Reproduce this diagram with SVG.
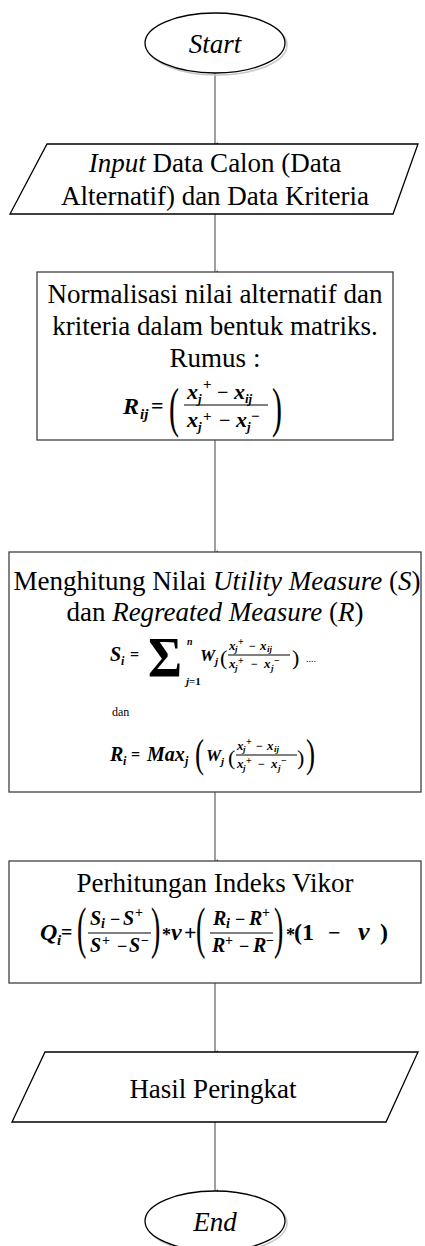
<svg xmlns="http://www.w3.org/2000/svg" width="425" height="1246" viewBox="0 0 425 1246">
<style>
.shape{fill:#fff;stroke:#000;stroke-width:1.3}
.box{fill:#fff;stroke:#404040;stroke-width:1.3}
.shadow{fill:none;stroke:#c8c8c8;stroke-width:1.5}
.conn{stroke:#808080;stroke-width:1.5;fill:none}
.t{font-family:"Liberation Serif","Times New Roman",serif;font-size:27px;fill:#000;text-anchor:middle}
.m{font-family:"Liberation Serif","Times New Roman",serif;font-weight:bold;font-style:italic;fill:#000}
.r{font-family:"Liberation Serif","Times New Roman",serif;font-weight:bold;fill:#000}
.p{font-family:"Liberation Serif","Times New Roman",serif;fill:#000}
.bar{stroke:#000;stroke-width:1.2}
</style>
<defs>
<marker id="ah" markerWidth="6" markerHeight="6" refX="3" refY="5" orient="auto" markerUnits="userSpaceOnUse">
<path d="M1,2 L3,5 L5,2 Z" fill="#808080"/>
</marker>
</defs>
<rect width="425" height="1246" fill="#fff"/>
<g id="connectors">
<line class="conn" x1="215" y1="73" x2="215" y2="144" marker-end="url(#ah)"/>
<line class="conn" x1="215" y1="214" x2="215" y2="272" marker-end="url(#ah)"/>
<line class="conn" x1="215" y1="440" x2="215" y2="552" marker-end="url(#ah)"/>
<line class="conn" x1="215" y1="792" x2="215" y2="861" marker-end="url(#ah)"/>
<line class="conn" x1="215" y1="983" x2="215" y2="1052" marker-end="url(#ah)"/>
<line class="conn" x1="215" y1="1122" x2="215" y2="1191" marker-end="url(#ah)"/>
</g>
<g id="start">
<ellipse class="shadow" cx="217" cy="45" rx="70" ry="30"/>
<ellipse class="shape" cx="215" cy="43" rx="70" ry="30"/>
<text class="t" x="215" y="53" font-style="italic">Start</text>
</g>
<g id="input">
<polygon class="shape" points="47,144 418,144 393,214 10,214"/>
<text class="t" x="215" y="172"><tspan font-style="italic">Input</tspan> Data Calon (Data</text>
<text class="t" x="215" y="205">Alternatif) dan Data Kriteria</text>
</g>
<g id="normalisasi">
<rect class="box" x="37" y="272" width="356" height="168"/>
<text class="t" x="215" y="303">Normalisasi nilai alternatif dan</text>
<text class="t" x="215" y="335">kriteria dalam bentuk matriks.</text>
<text class="t" x="215" y="367">Rumus :</text>
<g id="f-rij">
<text class="m" x="123" y="414" font-size="24">R</text>
<text class="m" x="140" y="419" font-size="15">ij</text>
<text class="r" x="151" y="413" font-size="22">=</text>
<text class="p" font-size="40" transform="translate(169,426) scale(0.75,1.35)">(</text>
<text class="m" x="187" y="399" font-size="22">x</text>
<text class="m" x="198" y="403" font-size="13">j</text>
<text class="r" x="203" y="389" font-size="15">+</text>
<text class="r" x="217" y="399" font-size="20">−</text>
<text class="m" x="234" y="399" font-size="22">x</text>
<text class="m" x="245" y="403" font-size="13">ij</text>
<line class="bar" x1="184" y1="405" x2="268" y2="405"/>
<text class="m" x="187" y="427" font-size="22">x</text>
<text class="m" x="198" y="431" font-size="13">j</text>
<text class="r" x="203" y="421" font-size="15">+</text>
<text class="r" x="219" y="427" font-size="20">−</text>
<text class="m" x="236" y="427" font-size="22">x</text>
<text class="m" x="247" y="431" font-size="13">j</text>
<text class="r" x="251" y="421" font-size="15">−</text>
<text class="p" font-size="40" transform="translate(272,426) scale(0.75,1.35)">)</text>
</g>
</g>
<g id="menghitung">
<rect class="box" x="9" y="552" width="412" height="240"/>
<text class="t" x="217" y="590">Menghitung Nilai <tspan font-style="italic">Utility Measure</tspan> (<tspan font-style="italic">S</tspan>)</text>
<text class="t" x="215" y="621">dan <tspan font-style="italic">Regreated Measure</tspan> (<tspan font-style="italic">R</tspan>)</text>
<g id="f-si">
<text class="m" x="110" y="661" font-size="20">S</text>
<text class="m" x="121" y="665" font-size="12">i</text>
<text class="r" x="130" y="660" font-size="16">=</text>
<text class="r" font-size="40" transform="translate(148,677) scale(1.3,1.45)">Σ</text>
<text class="m" x="187" y="645" font-size="10">n</text>
<text class="m" x="186" y="685" font-size="11">j<tspan font-style="normal">=1</tspan></text>
<text class="m" x="200" y="661" font-size="17">W</text>
<text class="m" x="215" y="665" font-size="11">j</text>
<text class="p" x="220" y="665" font-size="22">(</text>
<text class="m" x="229" y="650" font-size="13">x</text>
<text class="m" x="235" y="652" font-size="9">j</text>
<text class="r" x="238" y="645" font-size="10">+</text>
<text class="r" x="249" y="650" font-size="12">−</text>
<text class="m" x="260" y="650" font-size="13">x</text>
<text class="m" x="267" y="652" font-size="9">ij</text>
<line class="bar" x1="228" y1="655" x2="290" y2="655" stroke-width="0.9"/>
<text class="m" x="229" y="668" font-size="13">x</text>
<text class="m" x="235" y="671" font-size="9">j</text>
<text class="r" x="238" y="664" font-size="10">+</text>
<text class="r" x="251" y="668" font-size="12">−</text>
<text class="m" x="264" y="668" font-size="13">x</text>
<text class="m" x="271" y="671" font-size="9">j</text>
<text class="r" x="274" y="664" font-size="10">−</text>
<text class="p" x="292" y="665" font-size="22">)</text>
<text class="p" x="306" y="662" font-size="10" fill="#999">....</text>
</g>
<text class="p" x="112" y="716" font-size="12">dan</text>
<g id="f-ri">
<text class="m" x="110" y="761" font-size="20">R</text>
<text class="m" x="123" y="765" font-size="12">i</text>
<text class="r" x="131" y="760" font-size="16">=</text>
<text class="m" x="147" y="761" font-size="20">Max</text>
<text class="m" x="185" y="765" font-size="12">j</text>
<text class="p" font-size="34" transform="translate(195,767) scale(0.8,1.2)">(</text>
<text class="m" x="206" y="761" font-size="17">W</text>
<text class="m" x="221" y="765" font-size="11">j</text>
<text class="p" x="228" y="765" font-size="22">(</text>
<text class="m" x="237" y="750" font-size="13">x</text>
<text class="m" x="243" y="752" font-size="9">j</text>
<text class="r" x="246" y="745" font-size="10">+</text>
<text class="r" x="256" y="750" font-size="12">−</text>
<text class="m" x="267" y="750" font-size="13">x</text>
<text class="m" x="274" y="752" font-size="9">ij</text>
<line class="bar" x1="236" y1="755" x2="297" y2="755" stroke-width="0.9"/>
<text class="m" x="237" y="768" font-size="13">x</text>
<text class="m" x="243" y="771" font-size="9">j</text>
<text class="r" x="246" y="764" font-size="10">+</text>
<text class="r" x="258" y="768" font-size="12">−</text>
<text class="m" x="271" y="768" font-size="13">x</text>
<text class="m" x="278" y="771" font-size="9">j</text>
<text class="r" x="281" y="764" font-size="10">−</text>
<text class="p" x="297" y="765" font-size="22">)</text>
<text class="p" font-size="34" transform="translate(306,767) scale(0.8,1.2)">)</text>
</g>
</g>
<g id="vikor">
<rect class="box" x="9" y="861" width="412" height="122"/>
<text class="t" x="215" y="892">Perhitungan Indeks Vikor</text>
<g id="f-qi">
<text class="m" x="40" y="940" font-size="24">Q</text>
<text class="m" x="57" y="945" font-size="15">i</text>
<text class="r" x="61" y="939" font-size="20">=</text>
<text class="p" font-size="40" transform="translate(77,947) scale(0.7,1.4)">(</text>
<text class="m" x="90" y="925" font-size="20">S</text>
<text class="m" x="101" y="928" font-size="14">i</text>
<text class="r" x="110" y="925" font-size="18">−</text>
<text class="m" x="123" y="925" font-size="20">S</text>
<text class="r" x="135" y="917" font-size="14">+</text>
<line class="bar" x1="88" y1="933" x2="151" y2="933"/>
<text class="m" x="90" y="952" font-size="20">S</text>
<text class="r" x="102" y="945" font-size="14">+</text>
<text class="r" x="117" y="952" font-size="18">−</text>
<text class="m" x="129" y="952" font-size="20">S</text>
<text class="r" x="141" y="945" font-size="14">−</text>
<text class="p" font-size="40" transform="translate(151,947) scale(0.7,1.4)">)</text>
<text class="r" x="162" y="941" font-size="18">*</text>
<text class="m" x="171" y="940" font-size="24">v</text>
<text class="r" x="184" y="940" font-size="22">+</text>
<text class="p" font-size="40" transform="translate(196,947) scale(0.7,1.4)">(</text>
<text class="m" x="213" y="925" font-size="20">R</text>
<text class="m" x="226" y="928" font-size="14">i</text>
<text class="r" x="235" y="925" font-size="18">−</text>
<text class="m" x="249" y="925" font-size="20">R</text>
<text class="r" x="262" y="917" font-size="14">+</text>
<line class="bar" x1="210" y1="933" x2="273" y2="933"/>
<text class="m" x="212" y="952" font-size="20">R</text>
<text class="r" x="225" y="945" font-size="14">+</text>
<text class="r" x="239" y="952" font-size="18">−</text>
<text class="m" x="253" y="952" font-size="20">R</text>
<text class="r" x="266" y="945" font-size="14">−</text>
<text class="p" font-size="40" transform="translate(274,947) scale(0.7,1.4)">)</text>
<text class="r" x="286" y="941" font-size="18">*</text>
<text class="r" x="294" y="940" font-size="24">(1</text>
<text class="r" x="328" y="940" font-size="22">−</text>
<text class="m" x="358" y="940" font-size="26">v</text>
<text class="r" x="380" y="940" font-size="24">)</text>
</g>
</g>
<g id="hasil">
<polygon class="shape" points="45,1052 418,1052 386,1122 12,1122"/>
<text class="t" x="213" y="1098">Hasil Peringkat</text>
</g>
<g id="end">
<ellipse class="shadow" cx="217" cy="1223" rx="70" ry="30"/>
<ellipse class="shape" cx="215" cy="1221" rx="70" ry="30"/>
<text class="t" x="215" y="1231" font-style="italic">End</text>
</g>
</svg>
